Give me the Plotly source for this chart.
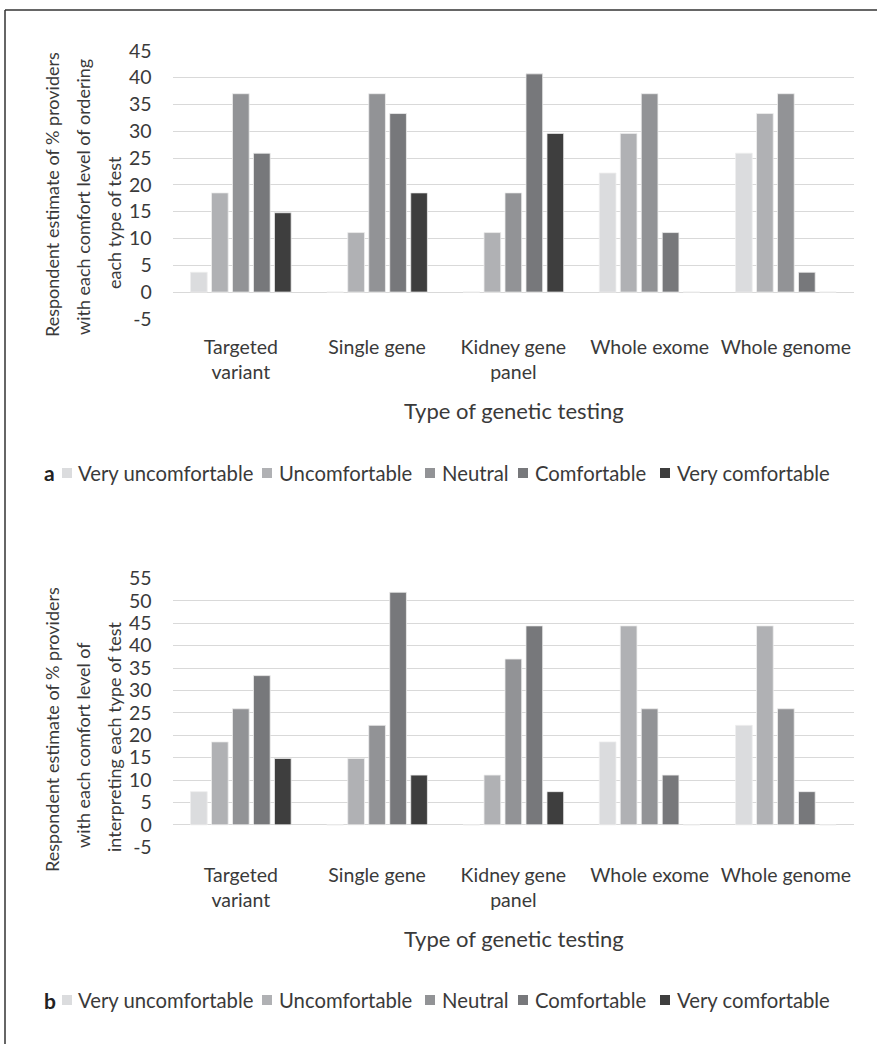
import plotly.graph_objects as go

# ---------------- data ----------------
categories = ["Targeted<br>variant", "Single gene", "Kidney gene<br>panel", "Whole exome", "Whole genome"]
series_names = ["Very uncomfortable", "Uncomfortable", "Neutral", "Comfortable", "Very comfortable"]
series_colors = ["#dbdcde", "#b0b1b4", "#929396", "#77787b", "#3e3e3e"]

# panel a: ordering
very_unc_a = [3.7, 0, 0, 22.2, 25.9]
unc_a = [18.5, 11.1, 11.1, 29.6, 33.3]
neutral_a = [37.0, 37.0, 18.5, 37.0, 37.0]
comf_a = [25.9, 33.3, 40.7, 11.1, 3.7]
very_comf_a = [14.8, 18.5, 29.6, 0, 0]

# panel b: interpreting
very_unc_b = [7.4, 0, 0, 18.5, 22.2]
unc_b = [18.5, 14.8, 11.1, 44.4, 44.4]
neutral_b = [25.9, 22.2, 37.0, 25.9, 25.9]
comf_b = [33.3, 51.9, 44.4, 11.1, 7.4]
very_comf_b = [14.8, 11.1, 7.4, 0, 0]

yticks_a = list(range(-5, 50, 5))
yticks_b = list(range(-5, 60, 5))

title_a = ["Respondent estimate of % providers", "with each comfort level of ordering", "each type of test"]
title_b = ["Respondent estimate of % providers", "with each comfort level of", "interpreting each type of test"]
xtitle = "Type of genetic testing"
panel_labels = ["a", "b"]

# ---------------- layout helpers ----------------
W, H = 877, 1044
FONT = "Lato, 'Open Sans', sans-serif"
TXT = "#3a3a3a"


def px(x):
    return x / W


def py(y):
    return 1 - y / H


fig = go.Figure()
panels = [
    dict(vals=[very_unc_a, unc_a, neutral_a, comf_a, very_comf_a], xa="x", ya="y"),
    dict(vals=[very_unc_b, unc_b, neutral_b, comf_b, very_comf_b], xa="x2", ya="y2"),
]

for p in panels:
    for name, color, vals in zip(series_names, series_colors, p["vals"]):
        fig.add_trace(go.Bar(
            x=categories, y=vals, name=name, xaxis=p["xa"], yaxis=p["ya"],
            marker=dict(color=color, line=dict(color="#eeeeee", width=0.8)),
            showlegend=False,
        ))

x_dom = [px(172.7), px(854)]
tickfont = dict(family=FONT, size=19.5, color=TXT)


def yaxis_cfg(dom, ticks):
    return dict(domain=dom, range=[ticks[0] - 0.02, ticks[-1] + 0.02],
                tickmode="array", tickvals=ticks, ticktext=[str(t) for t in ticks],
                showgrid=True, gridcolor="#d9d9d9", gridwidth=1.4, zeroline=False,
                showline=False, ticks="", ticklabelstandoff=20, tickfont=tickfont,
                automargin=False)


def xaxis_cfg():
    return dict(domain=x_dom, showgrid=False, showline=False, ticks="", zeroline=False,
                ticklabelstandoff=14, tickfont=tickfont, automargin=False)


fig.update_layout(
    template="none",
    width=W, height=H,
    margin=dict(l=0, r=0, t=0, b=0),
    paper_bgcolor="white", plot_bgcolor="white",
    barmode="group", bargap=0.23, bargroupgap=0.205,
    font=dict(family=FONT, color=TXT),
    xaxis=dict(anchor="y", **xaxis_cfg()),
    yaxis=dict(anchor="x", **yaxis_cfg([py(319.0), py(50.7)], yticks_a)),
    xaxis2=dict(anchor="y2", **xaxis_cfg()),
    yaxis2=dict(anchor="x2", **yaxis_cfg([py(847.3), py(578.3)], yticks_b)),
)

annotations = []
shapes = []

# y-axis titles (three rotated lines each)
for lines, ycs in [(title_a, [195, 197, 223]), (title_b, [730, 745, 737])]:
    for xc, yc, line in zip([52, 83, 114], ycs, lines):
        annotations.append(dict(text=line, x=px(xc), y=py(yc), xref="paper", yref="paper",
                                textangle=-90, showarrow=False, xanchor="center", yanchor="middle",
                                font=dict(family=FONT, size=18, color=TXT)))

# x-axis titles
for yc in [410, 938]:
    annotations.append(dict(text=xtitle, x=px(514), y=py(yc), xref="paper", yref="paper",
                            showarrow=False, xanchor="center", yanchor="middle",
                            font=dict(family=FONT, size=22, color=TXT)))

# legends
sq_x = [62, 262, 425, 518, 660]
txt_x = [76, 277, 440, 533, 675]
for lbl, yc in zip(panel_labels, [473, 1000]):
    annotations.append(dict(text="<b>" + lbl + "</b>", x=px(42), y=py(yc), xref="paper", yref="paper",
                            showarrow=False, xanchor="left", yanchor="middle",
                            font=dict(family=FONT, size=21, color="#222222")))
    for name, color, sx, tx in zip(series_names, series_colors, sq_x, txt_x):
        shapes.append(dict(type="rect", xref="paper", yref="paper",
                           x0=px(sx), x1=px(sx + 10), y0=py(yc + 5), y1=py(yc - 5),
                           fillcolor=color, line=dict(width=0)))
        annotations.append(dict(text=name, x=px(tx), y=py(yc), xref="paper", yref="paper",
                                showarrow=False, xanchor="left", yanchor="middle",
                                font=dict(family=FONT, size=20.3, color=TXT)))

# frame lines (top and left)
shapes.append(dict(type="line", xref="paper", yref="paper", x0=px(5), x1=1, y0=py(10), y1=py(10),
                   line=dict(color="#333333", width=1.5)))
shapes.append(dict(type="line", xref="paper", yref="paper", x0=px(5), x1=px(5), y0=py(10), y1=0,
                   line=dict(color="#333333", width=1.5)))

fig.update_layout(annotations=annotations, shapes=shapes)
fig.write_html("out.html", config={"displayModeBar": False},
               post_script="document.body.style.margin='0';document.body.style.overflow='hidden';")
